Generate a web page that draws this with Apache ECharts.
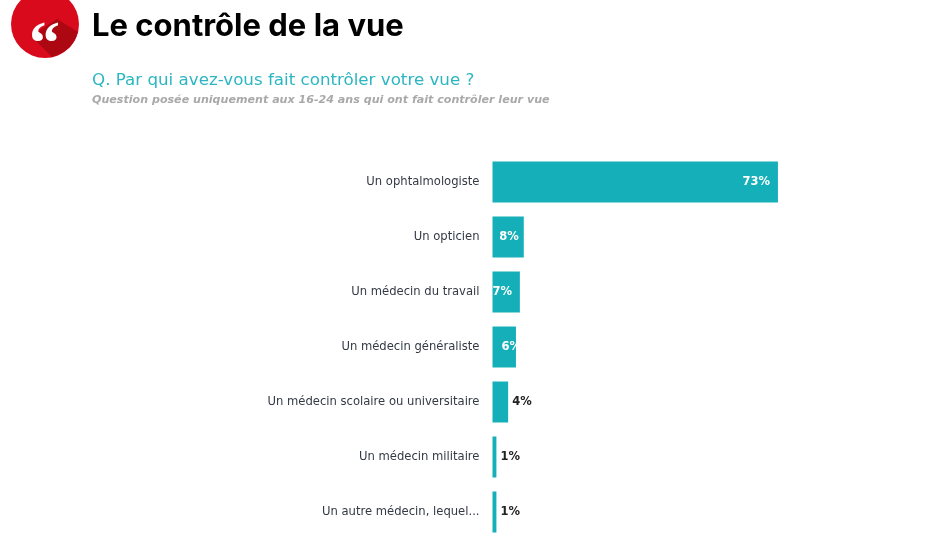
<!DOCTYPE html>
<html>
<head>
<meta charset="utf-8">
<style>
  html, body { margin: 0; padding: 0; background: #fff; }
  #chart { width: 938px; height: 542px; }
</style>
<script src="https://cdn.jsdelivr.net/npm/echarts@6/dist/echarts.min.js"></script>
</head>
<body>
<div id="chart"></div>
<script>
var categories = [
  'Un ophtalmologiste',
  'Un opticien',
  'Un médecin du travail',
  'Un médecin généraliste',
  'Un médecin scolaire ou universitaire',
  'Un médecin militaire',
  'Un autre médecin, lequel...'
];
var values = [73, 8, 7, 6, 4, 1, 1];

var titleText = 'Le contrôle de la vue';
var questionText = 'Q. Par qui avez-vous fait contrôler votre vue ?';
var noteText = 'Question posée uniquement aux 16-24 ans qui ont fait contrôler leur vue';

var TEAL = '#14afb8';

// les libellés ne sont pas placés pareil selon la barre
function labelFor(v, i) {
  if (v < 5) {
    return { position: 'right', distance: 4, color: '#222' };
  }
  if (i === 2) {
    return { position: 'insideLeft', distance: 0, color: '#fff' };
  }
  if (i === 3) {
    return { position: 'insideLeft', distance: 9, color: '#fff' };
  }
  return { position: 'insideRight', distance: i === 0 ? 8 : 5, color: '#fff' };
}

var myChart = echarts.init(document.getElementById('chart'), null, { renderer: 'canvas' });

var option = {
  animation: false,
  backgroundColor: '#fff',
  grid: { left: 492.5, top: 154.5, width: 391, height: 385, containLabel: false },
  xAxis: { type: 'value', min: 0, max: 100, show: false },
  yAxis: {
    type: 'category',
    inverse: true,
    data: categories,
    axisLine: { show: false },
    axisTick: { show: false },
    axisLabel: {
      margin: 13,
      fontFamily: 'DejaVu Sans',
      fontSize: 11.6,
      color: '#333a45'
    }
  },
  series: [{
    type: 'bar',
    barWidth: 41,
    itemStyle: { color: TEAL },
    label: {
      show: true,
      fontFamily: 'DejaVu Sans',
      fontSize: 11.5,
      fontWeight: 'bold',
      formatter: '{c}%'
    },
    data: values.map(function (v, i) {
      return { value: v, label: labelFor(v, i) };
    })
  }],
  graphic: [
    { type: 'circle', shape: { cx: 45, cy: 24, r: 34 }, style: { fill: '#d90a1c' } },
    {
      // ombre portée du guillemet
      type: 'polygon',
      shape: { points: [[31, 36], [57, 19], [78, 32], [75, 40], [70, 47], [62, 53], [52, 57]] },
      style: { fill: '#ad0712' }
    },
    {
      type: 'text', left: 29, top: 16,
      style: { text: '\u201C', fill: '#fff', font: 'bold 62px "Liberation Serif"' }
    },
    {
      type: 'text', left: 92, top: 11,
      style: { text: titleText, fill: '#000', font: 'bold 31px "Inter"' }
    },
    {
      type: 'text', left: 92, top: 72,
      style: { text: questionText, fill: '#2bb6c2', font: '16.7px "DejaVu Sans"' }
    },
    {
      type: 'text', left: 92, top: 95,
      style: { text: noteText, fill: '#a9a9a9', font: 'italic bold 11.1px "DejaVu Sans"' }
    }
  ]
};

myChart.setOption(option);
</script>
</body>
</html>
